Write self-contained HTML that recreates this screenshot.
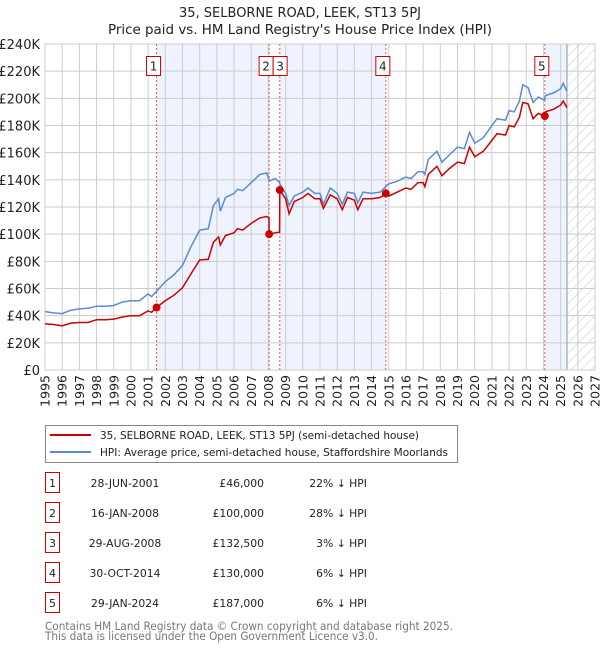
<!DOCTYPE html>
<html><head><meta charset="utf-8">
<style>
body{margin:0;background:#fff;font-family:"Liberation Sans","DejaVu Sans",sans-serif;}
#wrap{position:relative;width:600px;height:650px;overflow:hidden;}
svg text{font-family:"DejaVu Sans","Liberation Sans",sans-serif;}
</style></head>
<body>
<div id="wrap">
<svg id="chart" width="600" height="650" xmlns="http://www.w3.org/2000/svg">
<defs>
<pattern id="hatch" patternUnits="userSpaceOnUse" width="7" height="7" patternTransform="rotate(45)">
<line x1="0" y1="0" x2="0" y2="7" stroke="#c8c8c8" stroke-width="1"/>
</pattern>
</defs>
<text x="300" y="17" text-anchor="middle" font-size="13" fill="#222">35, SELBORNE ROAD, LEEK, ST13 5PJ</text>
<text x="300" y="34" text-anchor="middle" font-size="13" fill="#222" textLength="384" lengthAdjust="spacingAndGlyphs">Price paid vs. HM Land Registry's House Price Index (HPI)</text>
<g id="plot"></g>
<g>
<rect x="45.5" y="425.5" width="412" height="37" fill="#fff" stroke="#888"/>
<line x1="50" y1="435" x2="91" y2="435" stroke="#cc0000" stroke-width="2"/>
<text x="100" y="439" font-size="11" fill="#222" textLength="319" lengthAdjust="spacingAndGlyphs">35, SELBORNE ROAD, LEEK, ST13 5PJ (semi-detached house)</text>
<line x1="50" y1="452" x2="91" y2="452" stroke="#5b8bd0" stroke-width="2"/>
<text x="100" y="456" font-size="11" fill="#222" textLength="348" lengthAdjust="spacingAndGlyphs">HPI: Average price, semi-detached house, Staffordshire Moorlands</text>
</g>
<g id="table"></g>
<text x="45" y="630" font-size="11.5" fill="#777" textLength="408" lengthAdjust="spacingAndGlyphs">Contains HM Land Registry data © Crown copyright and database right 2025.</text>
<text x="45" y="640" font-size="11.5" fill="#777" textLength="333" lengthAdjust="spacingAndGlyphs">This data is licensed under the Open Government Licence v3.0.</text>
</svg>
</div>
<script>
const dates = [1995.0,1995.5,1996.0,1996.5,1997.0,1997.5,1998.0,1998.5,1999.0,1999.5,2000.0,2000.5,2001.0,2001.2,2001.49,2002.0,2002.5,2003.0,2003.5,2004.0,2004.5,2004.8,2005.1,2005.2,2005.5,2006.0,2006.2,2006.5,2007.0,2007.5,2007.9,2008.03,2008.04,2008.4,2008.65,2008.66,2009.0,2009.2,2009.5,2010.0,2010.3,2010.7,2011.0,2011.2,2011.6,2012.0,2012.3,2012.6,2013.0,2013.2,2013.5,2014.0,2014.5,2014.83,2015.0,2015.5,2016.0,2016.3,2016.7,2017.0,2017.1,2017.3,2017.8,2018.1,2018.5,2019.0,2019.4,2019.7,2020.0,2020.5,2021.0,2021.3,2021.8,2022.0,2022.3,2022.6,2022.8,2023.1,2023.4,2023.7,2024.0,2024.08,2024.1,2024.6,2025.0,2025.15,2025.37];
const hpiValues = [43,42,41.5,44,45,45.5,47,47,47.5,50,51,51,56,54,58,65,70,77,91,103,104,121,126,117,127,130,133,132,138,144,145,140,139,141,138,137,130,121,128,131,134,130,130,122,134,130,122,131,130,123,131,130,131,135,137,139,142,141,146,146,144,155,161,153,158,164,163,175,167,171,180,185,184,191,190,198,210,208,197,201,199,199,202,204,207,211,205];
const propertyValues = [34,33.5,32.5,34.5,35,35,37,37,37.5,39,40,40,43.5,42.5,46,51,55,60.5,71,81,81.5,94,98,92,99,101,104,103,108,112,113,112,100,101,101.5,132.5,126,115,124,127,130,126,126,119,129,126,118,127,125,118,126,126,127,130,128,131,134,133,138,138,135,144,150,143,148,153,152,164,157,161,169,174,173,180,179,186,197,196,185,189,187,187,190,192,195,198,193];
const saleDates = [2001.49,2008.04,2008.66,2014.83,2024.08];
const salePrices = [46,100,132.5,130,187];
const saleLabels = ["1","2","3","4","5"];
const saleDateText = ["28-JUN-2001","16-JAN-2008","29-AUG-2008","30-OCT-2014","29-JAN-2024"];
const salePriceText = ["£46,000","£100,000","£132,500","£130,000","£187,000"];
const saleHpiText = ["22% ↓ HPI","28% ↓ HPI","3% ↓ HPI","6% ↓ HPI","6% ↓ HPI"];
const yTicks = [0,20,40,60,80,100,120,140,160,180,200,220,240];
const yTickLabels = ["£0","£20K","£40K","£60K","£80K","£100K","£120K","£140K","£160K","£180K","£200K","£220K","£240K"];
const xTicks = [1995,1996,1997,1998,1999,2000,2001,2002,2003,2004,2005,2006,2007,2008,2009,2010,2011,2012,2013,2014,2015,2016,2017,2018,2019,2020,2021,2022,2023,2024,2025,2026,2027];
const dataEnd = 2025.37;

const NS="http://www.w3.org/2000/svg";
const L=45,R=595,T=44,B=370,X0=1995,X1=2027,YMAX=240;
function xs(v){return L+(v-X0)/(X1-X0)*(R-L);}
function ys(v){return B-v/YMAX*(B-T);}
function mk(tag,attrs,parent){const e=document.createElementNS(NS,tag);for(const k in attrs)e.setAttribute(k,attrs[k]);parent.appendChild(e);return e;}
const plot=document.getElementById('plot');

for(let i=0;i<saleDates.length;i+=2){
  const a=xs(saleDates[i]);
  const b=xs(i+1<saleDates.length?saleDates[i+1]:dataEnd);
  const r=mk('rect',{x:a,y:T,width:b-a,height:B-T,fill:'#eef3fd'},plot);
  
  
}
const hz=mk('rect',{x:xs(dataEnd),y:T,width:R-xs(dataEnd),height:B-T,fill:'url(#hatch)'},plot);


yTicks.forEach((v,i)=>{
  const g=mk('line',{x1:L,x2:R,y1:ys(v),y2:ys(v),stroke:'#cccccc','stroke-width':1},plot);
  
  
  const t=mk('text',{x:L-5,y:ys(v)+5,'text-anchor':'end','font-size':13,fill:'#222'},plot);
  t.textContent=yTickLabels[i];
  
  
});
xTicks.forEach(v=>{
  const g=mk('line',{x1:xs(v),x2:xs(v),y1:T,y2:B,stroke:'#cccccc','stroke-width':1},plot);
  
  
  const t=mk('text',{x:0,y:0,'text-anchor':'end','font-size':12.5,fill:'#222',transform:`translate(${xs(v)+4.5},${B+5}) rotate(-90)`},plot);
  t.textContent=v;
  
  
});
const bl=mk('line',{x1:xs(dataEnd),x2:xs(dataEnd),y1:T,y2:B,stroke:'#8a94a8','stroke-width':1},plot);


const fr=mk('rect',{x:L,y:T,width:R-L,height:B-T,fill:'none',stroke:'#cccccc'},plot);



saleDates.forEach(d=>{
  const l=mk('line',{x1:xs(d),x2:xs(d),y1:T,y2:B,stroke:'#e06060','stroke-width':1,'stroke-dasharray':'2,2'},plot);
  
  
});
function path(vals){return dates.map((d,i)=>(i?'L':'M')+xs(d).toFixed(1)+','+ys(vals[i]).toFixed(1)).join('');}
const hp=mk('path',{d:path(hpiValues),fill:'none',stroke:'#5b8bd0','stroke-width':1.5},plot);


const pp=mk('path',{d:path(propertyValues),fill:'none',stroke:'#cc0000','stroke-width':1.5},plot);


let prevRight=-1e9;
saleDates.forEach((d,i)=>{
  const c=mk('circle',{cx:xs(d),cy:ys(salePrices[i]),r:4,fill:'#cc0000'},plot);
  
  
  let bx=xs(d)-10;
  if(bx<prevRight) bx=prevRight;
  prevRight=bx+14;
  const r=mk('rect',{x:bx,y:56.5,width:14,height:19,fill:'#fff',stroke:'#cc0000'},plot);
  
  
  const t=mk('text',{x:bx+7,y:70.5,'text-anchor':'middle','font-size':12,fill:'#222'},plot);
  t.textContent=saleLabels[i];
  
  
});
const tb=document.getElementById('table');
saleLabels.forEach((s,i)=>{
  const cy=483+i*30;
  const r=mk('rect',{x:45.5,y:cy-10.5,width:14,height:20,fill:'#fff',stroke:'#cc0000'},tb);
  
  
  const n=mk('text',{x:52.5,y:cy+4,'text-anchor':'middle','font-size':11,fill:'#222'},tb);
  n.textContent=s;
  
  
  const a=mk('text',{x:125,y:cy+4,'text-anchor':'middle','font-size':10.8,fill:'#222'},tb);
  a.textContent=saleDateText[i];
  
  
  const b=mk('text',{x:264,y:cy+4,'text-anchor':'end','font-size':10.8,fill:'#222'},tb);
  b.textContent=salePriceText[i];
  
  
  const h=mk('text',{x:367,y:cy+4,'text-anchor':'end','font-size':10.8,fill:'#222'},tb);
  h.textContent=saleHpiText[i];
  
  
});
</script>
</body></html>
